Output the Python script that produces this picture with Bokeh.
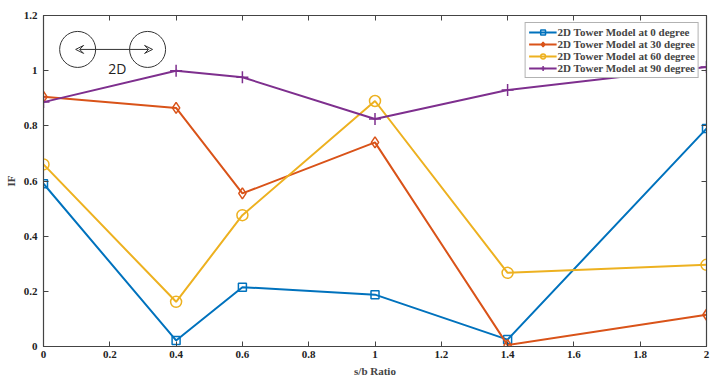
from bokeh.plotting import figure
from bokeh.models import (LinearAxis, Legend, LegendItem, Arrow, VeeHead, Label, Range1d,
                          FixedTicker, CustomJSTickFormatter)
from bokeh.embed import file_html
from bokeh.resources import INLINE

x = [0, 0.4, 0.6, 1, 1.4, 2]
series_names = ["2D Tower Model at 0 degree", "2D Tower Model at 30 degree",
                "2D Tower Model at 60 degree", "2D Tower Model at 90 degree"]
if_0 = [0.59, 0.022, 0.215, 0.188, 0.025, 0.79]
if_30 = [0.905, 0.865, 0.555, 0.74, 0.005, 0.115]
if_60 = [0.66, 0.162, 0.476, 0.89, 0.267, 0.296]
if_90 = [0.886, 1.0, 0.976, 0.825, 0.93, 1.013]
x_ticks = [0, 0.2, 0.4, 0.6, 0.8, 1, 1.2, 1.4, 1.6, 1.8, 2]
y_ticks = [0, 0.2, 0.4, 0.6, 0.8, 1, 1.2]

colors = ["#0072BD", "#D95319", "#EDB120", "#7E2F8E"]
markers = ["square", "diamond", "circle", "cross"]
sizes = [8, 11, 11, 12]

FONT = "Liberation Serif"

p = figure(width=715, height=379, output_backend="svg", toolbar_location=None,
           x_range=Range1d(0, 2), y_range=Range1d(0, 1.2),
           min_border_left=43, min_border_right=9, min_border_top=15, min_border_bottom=31)
p.xgrid.visible = False
p.ygrid.visible = False
p.outline_line_color = "#444444"
p.outline_line_width = 1.2

for ax in (p.xaxis[0], p.yaxis[0]):
    ax.major_tick_in = 5
    ax.major_tick_out = 0
    ax.minor_tick_in = 0
    ax.minor_tick_out = 0
    ax.major_label_text_font = FONT
    ax.major_label_text_font_style = "bold"
    ax.major_label_text_font_size = "11px"
    ax.major_label_text_color = "#222222"
    ax.axis_line_color = "#444444"
    ax.major_tick_line_color = "#444444"
    ax.axis_label_text_font = FONT
    ax.axis_label_text_font_style = "bold"
    ax.axis_label_text_font_size = "11px"
    ax.axis_label_standoff = 4
p.xaxis[0].ticker = FixedTicker(ticks=x_ticks)
p.yaxis[0].ticker = FixedTicker(ticks=y_ticks)
p.xaxis[0].major_label_overrides = {t: (str(int(t)) if t == int(t) else f"{t:g}") for t in x_ticks}
p.yaxis[0].major_label_overrides = {t: (str(int(t)) if t == int(t) else f"{t:g}") for t in y_ticks}
p.xaxis[0].axis_label = "s/b Ratio"
p.yaxis[0].axis_label = "IF"
p.xaxis[0].major_label_standoff = 4
p.yaxis[0].major_label_standoff = 6

blank = CustomJSTickFormatter(code="return '';")
top = LinearAxis(ticker=FixedTicker(ticks=x_ticks), major_tick_in=5, major_tick_out=0,
                 minor_tick_in=0, minor_tick_out=0, formatter=blank, major_label_standoff=0,
                 axis_line_color="#444444", major_tick_line_color="#444444")
right = LinearAxis(ticker=FixedTicker(ticks=y_ticks), major_tick_in=5, major_tick_out=0,
                   minor_tick_in=0, minor_tick_out=0, formatter=blank, major_label_standoff=0,
                   axis_line_color="#444444", major_tick_line_color="#444444")
p.add_layout(top, "above")
p.add_layout(right, "right")

items = []
for name, ys, c, m, s in zip(series_names, [if_0, if_30, if_60, if_90], colors, markers, sizes):
    r1 = p.line(x, ys, line_color=c, line_width=2)
    r2 = p.scatter(x, ys, marker=m, size=s, line_color=c, fill_color=None, line_width=1.5)
    items.append(LegendItem(label=name, renderers=[r1, r2]))

legend = Legend(items=items, location="top_right", label_text_font=FONT,
                label_text_font_style="bold", label_text_font_size="11px",
                label_height=12, glyph_height=12, glyph_width=28, spacing=0,
                padding=3, margin=7, border_line_color="#666666",
                background_fill_alpha=1.0, label_standoff=1)
p.add_layout(legend)

# inset diagram
p.scatter([0.103, 0.314], [1.077, 1.077], marker="circle", size=36,
          fill_color=None, line_color="#333333", line_width=1)
p.add_layout(Arrow(start=VeeHead(size=8, line_color="#333333", line_width=1, fill_color=None),
                   end=VeeHead(size=8, line_color="#333333", line_width=1, fill_color=None),
                   x_start=0.097, y_start=1.077, x_end=0.329, y_end=1.077,
                   line_color="#333333", line_width=1))
p.add_layout(Label(x=0.223, y=1.008, text="2D", text_font="Open Sans", text_font_size="14px",
                   text_align="center", text_baseline="middle", text_color="#222222"))

open("out.html", "w").write(file_html(p, INLINE))
